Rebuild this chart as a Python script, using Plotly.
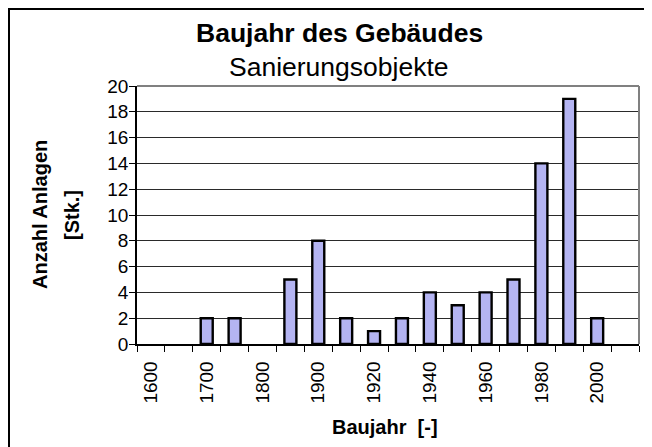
import plotly.graph_objects as go

years = ["1600", "1650", "1700", "1750", "1800", "1850", "1900", "1910", "1920",
         "1930", "1940", "1950", "1960", "1970", "1980", "1990", "2000", "2010"]
counts = [0, 0, 2, 2, 0, 5, 8, 2, 1, 2, 4, 3, 4, 5, 14, 19, 2, 0]
tick_labels = [y if i % 2 == 0 else "" for i, y in enumerate(years)]

title = "Baujahr des Gebäudes"
subtitle = "Sanierungsobjekte"
y_title_1 = "Anzahl Anlagen"
y_title_2 = "[Stk.]"
x_title = "Baujahr  [-]"

# page body has an 8px margin, so the figure is 644x439
W, H = 644, 439
L, R, T, B = 129, 631, 78, 336


def px(x):
    return (x - L) / (R - L)


def py(y):
    return (B - y) / (B - T)


FONT = "Liberation Sans, Arial, sans-serif"

fig = go.Figure(go.Bar(
    x=years, y=[c if c else None for c in counts], width=0.43,
    marker=dict(color="#b4b4f2", line=dict(color="black", width=2.4)),
))

fig.update_layout(
    width=W, height=H,
    margin=dict(l=L, r=W - R, t=T, b=H - B, pad=0),
    paper_bgcolor="white", plot_bgcolor="white",
    showlegend=False,
    font=dict(family=FONT, color="black"),
)

fig.update_xaxes(
    type="category", tickmode="array", tickvals=years, ticktext=tick_labels,
    tickson="boundaries", ticks="outside", ticklen=6, tickcolor="black",
    tickangle=-90, tickfont=dict(size=19), ticklabelstandoff=8,
    showline=True, linecolor="black", linewidth=1.5, mirror=False,
    showgrid=False, range=[-0.5, 17.5],
)
fig.update_yaxes(
    range=[0, 20], dtick=2, ticks="outside", ticklen=6, tickcolor="black",
    tickfont=dict(size=19), ticklabelstandoff=-3,
    showgrid=True, gridcolor="#2a2a2a", gridwidth=1,
    showline=True, linecolor="black", linewidth=1.5, zeroline=False,
)

shapes = [
    # plot area border (top and right, grey)
    dict(type="line", xref="paper", yref="paper", x0=0, x1=1, y0=1, y1=1,
         line=dict(color="#808080", width=2)),
    dict(type="line", xref="paper", yref="paper", x0=1, x1=1, y0=0, y1=1,
         line=dict(color="#808080", width=2)),
    # chart outer border (left and top visible)
    dict(type="line", xref="paper", yref="paper", x0=px(1), x1=px(1),
         y0=py(H + 10), y1=py(0), line=dict(color="black", width=2)),
    dict(type="line", xref="paper", yref="paper", x0=px(0), x1=px(W + 10),
         y0=py(1), y1=py(1), line=dict(color="black", width=2)),
]
fig.update_layout(shapes=shapes)

annotations = [
    dict(text=f"<b>{title}</b>", x=px(331), y=py(25), font=dict(size=26.5)),
    dict(text=subtitle, x=px(331), y=py(59), font=dict(size=26.5)),
    dict(text=f"<b>{y_title_1}</b>", x=px(32), y=py(207), textangle=-90,
         font=dict(size=20)),
    dict(text=f"<b>{y_title_2}</b>", x=px(64), y=py(207), textangle=-90,
         font=dict(size=20)),
    dict(text=f"<b>{x_title}</b>", x=px(377), y=py(419), font=dict(size=20)),
]
for a in annotations:
    a.update(xref="paper", yref="paper", showarrow=False,
             xanchor="center", yanchor="middle")
fig.update_layout(annotations=annotations)

fig.write_html("out.html")
